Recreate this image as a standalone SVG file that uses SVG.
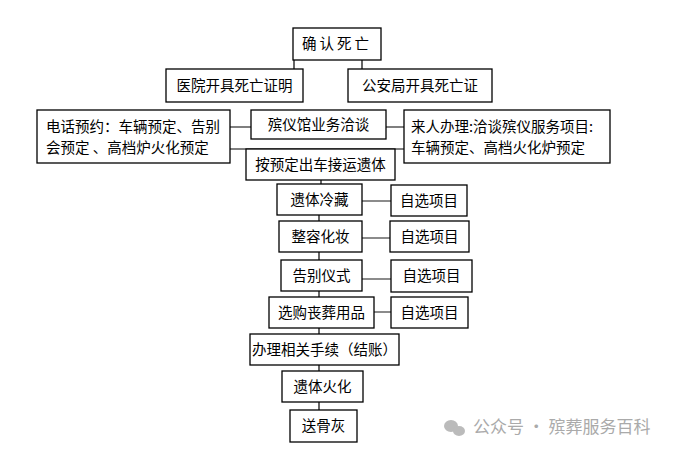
<svg xmlns="http://www.w3.org/2000/svg" width="693" height="456" viewBox="0 0 693 456">
<style>
.b{fill:#fff;stroke:#000;stroke-width:1.3}
.t{font-family:"Noto Sans CJK SC","Noto Sans",sans-serif;font-size:14.5px;fill:#000}
.c{stroke:#000;stroke-width:1.2;fill:none}
.g{stroke:#666;stroke-width:1.5;fill:none}
</style>
<rect width="693" height="456" fill="#fff"/>
<g id="connectors">
<path class="c" d="M294 60V69M362 60V69M230 127H251M386 127H404M230 149H404M321 180V184M319 215V221M319 252V260M319 291V297M319 328V334M319 365V371M319 402V410"/>
<path class="g" d="M362 201H391M362 238H390M362 279H391M374 312H391"/>
</g>
<g id="n1"><rect class="b" x="293" y="28" width="88" height="32"/><text class="t" x="337" y="49" text-anchor="middle" letter-spacing="3">确认死亡</text></g>
<g id="n2"><rect class="b" x="166" y="69" width="137" height="33"/><text class="t" x="234.5" y="91" text-anchor="middle">医院开具死亡证明</text></g>
<g id="n3"><rect class="b" x="348" y="69" width="144" height="33"/><text class="t" x="420" y="91" text-anchor="middle">公安局开具死亡证</text></g>
<g id="n4"><rect class="b" x="37" y="110" width="193" height="53"/><text class="t" x="46" y="132">电话预约：车辆预定、告别</text><text class="t" x="46" y="153">会预定 、高档炉火化预定</text></g>
<g id="n5"><rect class="b" x="251" y="110" width="135" height="29"/><text class="t" x="318.5" y="130" text-anchor="middle">殡仪馆业务洽谈</text></g>
<g id="n6"><rect class="b" x="404" y="110" width="206" height="53"/><text class="t" x="411" y="132">来人办理:洽谈殡仪服务项目:</text><text class="t" x="411" y="153">车辆预定、高档火化炉预定</text></g>
<g id="n7"><rect class="b" x="246" y="149" width="149" height="31"/><text class="t" x="320.5" y="170" text-anchor="middle">按预定出车接运遗体</text></g>
<g id="n8"><rect class="b" x="277" y="184" width="85" height="31"/><text class="t" x="319.5" y="205" text-anchor="middle">遗体冷藏</text></g>
<g id="n9"><rect class="b" x="391" y="185" width="76" height="31"/><text class="t" x="429" y="206" text-anchor="middle">自选项目</text></g>
<g id="n10"><rect class="b" x="279" y="221" width="83" height="31"/><text class="t" x="320.5" y="242" text-anchor="middle">整容化妆</text></g>
<g id="n11"><rect class="b" x="390" y="221" width="79" height="31"/><text class="t" x="429.5" y="242" text-anchor="middle">自选项目</text></g>
<g id="n12"><rect class="b" x="281" y="260" width="81" height="31"/><text class="t" x="321.5" y="281" text-anchor="middle">告别仪式</text></g>
<g id="n13"><rect class="b" x="391" y="260" width="81" height="32"/><text class="t" x="431.5" y="281" text-anchor="middle">自选项目</text></g>
<g id="n14"><rect class="b" x="269" y="297" width="105" height="31"/><text class="t" x="321.5" y="318" text-anchor="middle">选购丧葬用品</text></g>
<g id="n15"><rect class="b" x="391" y="297" width="77" height="31"/><text class="t" x="429.5" y="318" text-anchor="middle">自选项目</text></g>
<g id="n16"><rect class="b" x="250" y="334" width="149" height="31"/><text class="t" x="324.5" y="355" text-anchor="middle">办理相关手续（结账）</text></g>
<g id="n17"><rect class="b" x="282" y="371" width="81" height="31"/><text class="t" x="322.5" y="392" text-anchor="middle">遗体火化</text></g>
<g id="n18"><rect class="b" x="290" y="410" width="67" height="32"/><text class="t" x="323.5" y="431" text-anchor="middle">送骨灰</text></g>
<g id="watermark" fill="#bbb">
<ellipse cx="451" cy="426" rx="7" ry="6"/><ellipse cx="459" cy="431" rx="6" ry="5"/>
<text x="473" y="433" font-family="Noto Sans CJK SC,sans-serif" font-size="17" fill="#aaa">公众号 · 殡葬服务百科</text>
</g>
</svg>
